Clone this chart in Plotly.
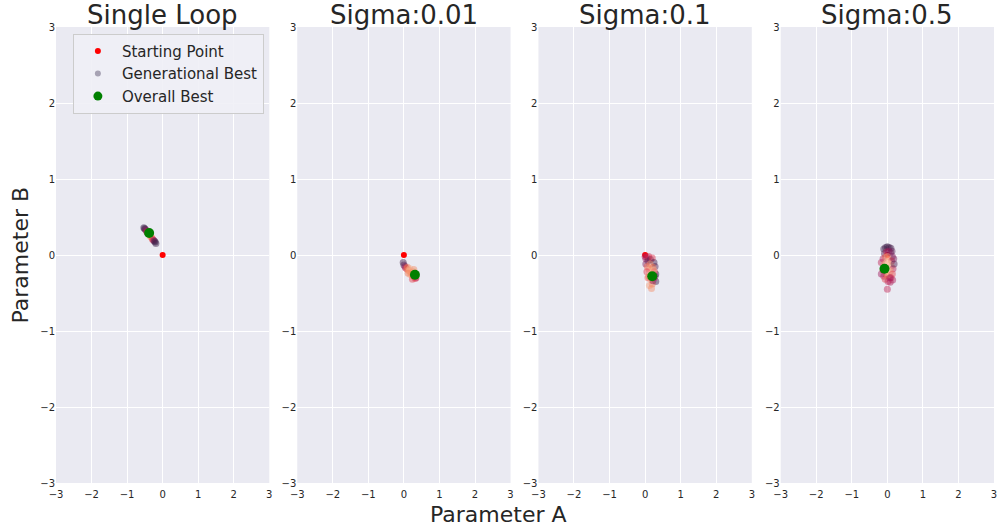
import plotly.graph_objects as go

titles = ["Single Loop", "Sigma:0.01", "Sigma:0.1", "Sigma:0.5"]
axis_ticks = [-3, -2, -1, 0, 1, 2, 3]

start_x = [0.0, 0.0, 0.0, 0.0]
start_y = [0.0, 0.0, 0.0, 0.0]

best_x = [-0.38, 0.31, 0.20, -0.08]
best_y = [0.29, -0.26, -0.28, -0.18]

gen_x1 = [-0.53, -0.51, -0.49, -0.47, -0.45, -0.43, -0.41, -0.39, -0.37, -0.35, -0.33, -0.31, -0.29, -0.27, -0.25, -0.23, -0.21, -0.19]
gen_y1 = [0.36, 0.35, 0.34, 0.33, 0.31, 0.30, 0.29, 0.28, 0.26, 0.25, 0.24, 0.23, 0.21, 0.20, 0.19, 0.18, 0.17, 0.15]
gen_c1 = [0.05, 0.05, 0.1, 0.3, 0.45, 0.6, 0.7, 0.8, 0.9, 0.95, 0.9, 0.85, 0.7, 0.55, 0.35, 0.15, 0.05, 0.05]

gen_x2 = [-0.02, 0.0, 0.03, 0.05, 0.08, 0.10, 0.12, 0.15, 0.17, 0.20, 0.22, 0.25, 0.27, 0.30, 0.32, 0.34, 0.18, 0.24, 0.28, 0.12]
gen_y2 = [-0.10, -0.13, -0.15, -0.17, -0.18, -0.16, -0.20, -0.21, -0.18, -0.23, -0.25, -0.27, -0.22, -0.29, -0.31, -0.30, -0.26, -0.32, -0.19, -0.24]
gen_c2 = [0.1, 0.15, 0.3, 0.5, 0.7, 0.8, 0.85, 0.95, 0.95, 0.9, 0.85, 0.8, 0.9, 0.7, 0.6, 0.5, 0.95, 0.65, 0.85, 0.8]

gen_x3 = [0.0, 0.02, 0.05, 0.08, 0.10, 0.15, 0.20, 0.25, 0.28, 0.30, 0.02, 0.06, 0.10, 0.14, 0.18, 0.22, 0.26, 0.30, 0.05, 0.10, 0.15, 0.20, 0.25, 0.12, 0.18, 0.24, 0.08, 0.15, 0.22, 0.28]
gen_y3 = [-0.02, -0.05, -0.03, -0.08, -0.02, -0.06, -0.04, -0.10, -0.15, -0.25, -0.12, -0.15, -0.18, -0.12, -0.20, -0.16, -0.22, -0.35, -0.22, -0.28, -0.32, -0.38, -0.30, -0.40, -0.44, -0.20, -0.30, -0.25, -0.34, -0.28]
gen_c3 = [0.45, 0.4, 0.5, 0.1, 0.55, 0.2, 0.6, 0.1, 0.15, 0.05, 0.3, 0.75, 0.9, 0.85, 0.95, 0.8, 0.6, 0.05, 0.6, 0.9, 0.9, 0.8, 0.5, 0.9, 0.85, 0.95, 0.7, 0.95, 0.35, 0.2]

gen_x4 = [-0.10, -0.05, 0.0, 0.05, 0.10, 0.13, -0.08, -0.02, 0.04, 0.09, 0.14, -0.12, -0.06, 0.0, 0.06, 0.12, 0.18, -0.17, -0.08, -0.02, 0.05, 0.11, 0.16, -0.12, -0.05, 0.02, 0.08, 0.14, -0.10, -0.03, 0.04, 0.10, 0.15, -0.06, 0.02, 0.08, 0.0, 0.07, -0.17, 0.19]
gen_y4 = [0.08, 0.10, 0.11, 0.10, 0.09, 0.05, 0.02, 0.04, 0.05, 0.03, -0.02, -0.05, -0.03, -0.02, -0.06, -0.08, -0.05, -0.10, -0.12, -0.10, -0.12, -0.15, -0.18, -0.20, -0.18, -0.20, -0.22, -0.25, -0.28, -0.26, -0.28, -0.30, -0.33, -0.32, -0.35, -0.36, -0.45, -0.30, -0.25, -0.12]
gen_c4 = [0.05, 0.1, 0.05, 0.1, 0.1, 0.2, 0.15, 0.5, 0.4, 0.25, 0.3, 0.45, 0.75, 0.95, 0.9, 0.6, 0.3, 0.5, 0.85, 1.0, 1.0, 0.9, 0.5, 0.6, 0.95, 1.0, 0.95, 0.65, 0.5, 0.8, 0.9, 0.6, 0.45, 0.65, 0.5, 0.45, 0.5, 0.4, 0.4, 0.15]

gen_x = [gen_x1, gen_x2, gen_x3, gen_x4]
gen_y = [gen_y1, gen_y2, gen_y3, gen_y4]
gen_c = [gen_c1, gen_c2, gen_c3, gen_c4]

rocket = [[0.0, "#2a1a3e"], [0.2, "#5e1f55"], [0.4, "#a0185c"], [0.6, "#de2c45"],
          [0.8, "#f3774f"], [1.0, "#f8c7a3"]]

domains = [[0.0, 0.2274], [0.2572, 0.4846], [0.5143, 0.7418], [0.7726, 1.0]]
font_family = "DejaVu Sans"

fig = go.Figure()
for i in range(4):
    xa = "x" if i == 0 else f"x{i+1}"
    ya = "y" if i == 0 else f"y{i+1}"
    fig.add_trace(go.Scatter(
        x=[start_x[i]], y=[start_y[i]], mode="markers", xaxis=xa, yaxis=ya, showlegend=False,
        marker=dict(size=6, color="red", line=dict(width=0))))
    fig.add_trace(go.Scatter(
        x=gen_x[i], y=gen_y[i], mode="markers", xaxis=xa, yaxis=ya, showlegend=False,
        marker=dict(size=7, color=gen_c[i], colorscale=rocket, cmin=0, cmax=1, opacity=0.45,
                    line=dict(width=0)),
        hoverinfo="skip"))
    fig.add_trace(go.Scatter(
        x=[best_x[i]], y=[best_y[i]], mode="markers", xaxis=xa, yaxis=ya, showlegend=False,
        marker=dict(size=10, color="green", line=dict(width=0))))

# legend entries
fig.add_trace(go.Scatter(x=[None], y=[None], mode="markers", name="Starting Point",
                         marker=dict(size=6, color="red")))
fig.add_trace(go.Scatter(x=[None], y=[None], mode="markers", name="Generational Best",
                         marker=dict(size=6, color="#a7a3b4")))
fig.add_trace(go.Scatter(x=[None], y=[None], mode="markers", name="Overall Best",
                         marker=dict(size=9, color="green")))

layout = dict(
    width=998, height=527,
    margin=dict(l=56, r=1, t=27, b=44),
    paper_bgcolor="white", plot_bgcolor="#EAEAF2",
    font=dict(family=font_family, color="#262626"),
    showlegend=True,
    legend=dict(x=0.018, y=0.985, xanchor="left", yanchor="top",
                bgcolor="rgba(240,240,246,0.9)", bordercolor="#cccccc", borderwidth=1,
                font=dict(size=15, color="#262626", family=font_family),
                itemsizing="trace", itemwidth=38),
)
annotations = []
for i in range(4):
    sfx = "" if i == 0 else str(i + 1)
    axcommon = dict(range=[-3, 3], tickvals=axis_ticks, showgrid=True, gridcolor="white",
                    gridwidth=1.3, zeroline=False, showline=False, ticks="",
                    tickfont=dict(size=10, color="#262626", family=font_family))
    layout["xaxis" + sfx] = dict(domain=domains[i], anchor="y" + sfx, ticklabelstandoff=4, **axcommon)
    layout["yaxis" + sfx] = dict(domain=[0, 1], anchor="x" + sfx, **axcommon)
    annotations.append(dict(text=titles[i], x=(domains[i][0] + domains[i][1]) / 2, y=1,
                            xref="paper", yref="paper", xanchor="center", yanchor="bottom",
                            yshift=-5, showarrow=False, font=dict(size=26, color="#262626")))
annotations.append(dict(text="Parameter A", x=0.472, y=0, xref="paper", yref="paper",
                        xanchor="center", yanchor="top", yshift=-17, showarrow=False,
                        font=dict(size=22, color="#262626")))
annotations.append(dict(text="Parameter B", x=0, y=0.5, xref="paper", yref="paper",
                        xanchor="right", yanchor="middle", xshift=-22, textangle=-90,
                        showarrow=False, font=dict(size=22, color="#262626")))
layout["annotations"] = annotations
fig.update_layout(**layout)

fig.write_html("out.html")
